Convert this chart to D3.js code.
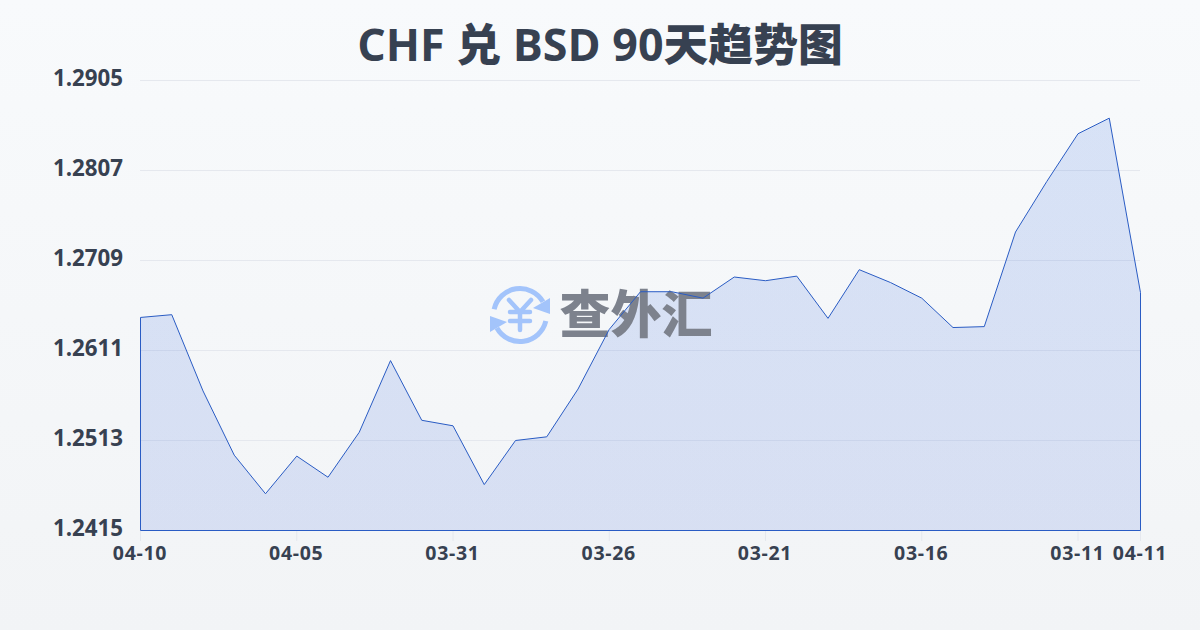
<!DOCTYPE html>
<html><head><meta charset="utf-8">
<script src="https://cdn.jsdelivr.net/npm/d3@7"></script>
<style>html,body{margin:0;padding:0}svg{display:block}text{font-family:"Open Sans","Noto Sans CJK SC",sans-serif}</style>
</head><body><div id="c"></div>
<script>
const titleText = "CHF 兑 BSD 90天趋势图";
const watermarkText = "查外汇";
const categories = ["04-10","04-09","04-08","04-07","04-06","04-05","04-04","04-03","04-02","04-01","03-31","03-30","03-29","03-28","03-27","03-26","03-25","03-24","03-23","03-22","03-21","03-20","03-19","03-18","03-17","03-16","03-15","03-14","03-13","03-12","03-11","03-10","04-11"];
const values = [1.2647,1.2650,1.2567,1.2497,1.2455,1.2496,1.2473,1.2522,1.2600,1.2535,1.2529,1.2465,1.2513,1.2517,1.2569,1.2634,1.2675,1.2675,1.2668,1.2691,1.2687,1.2692,1.2646,1.2699,1.2685,1.2668,1.2636,1.2637,1.2740,1.2795,1.2847,1.2864,1.2674];
const yTicks = [1.2415,1.2513,1.2611,1.2709,1.2807,1.2905];
const xTickLabels = ["04-10","04-05","03-31","03-26","03-21","03-16","03-11","04-11"];

const W=1200,H=630,L=140,R=1140,T=80,B=530;
const svg=d3.select("#c").append("svg").attr("width",W).attr("height",H);
const defs=svg.append("defs");
const bg=defs.append("linearGradient").attr("id","bg").attr("x1",0).attr("y1",0).attr("x2",0).attr("y2",1);
bg.append("stop").attr("offset",0).attr("stop-color","#f8fafc");
bg.append("stop").attr("offset",1).attr("stop-color","#f2f4f6");
const ag=defs.append("linearGradient").attr("id","ag").attr("gradientUnits","userSpaceOnUse").attr("x1",0).attr("y1",118).attr("x2",0).attr("y2",B);
ag.append("stop").attr("offset",0).attr("stop-color","#3e74e0").attr("stop-opacity",0.17);
ag.append("stop").attr("offset",1).attr("stop-color","#2f5bd8").attr("stop-opacity",0.14);
svg.append("rect").attr("width",W).attr("height",H).attr("fill","url(#bg)");

const x=d3.scalePoint().domain(d3.range(categories.length)).range([L,R]);
const y=d3.scaleLinear().domain([yTicks[0],yTicks[yTicks.length-1]]).range([B,T]);

// grid
svg.append("g").selectAll("line").data(yTicks.slice(1)).join("line")
  .attr("x1",L).attr("x2",R).attr("y1",d=>y(d)+.5).attr("y2",d=>y(d)+.5)
  .attr("stroke","#e5e8ee").attr("stroke-width",1);

// area
const pts=values.map((v,i)=>[x(i)+.5,y(v)+.5]);
const area=d3.area().x(d=>d[0]).y0(B+.5).y1(d=>d[1]);
svg.append("path").attr("d",area(pts)).attr("fill","url(#ag)");

// watermark
const wm=svg.append("g").attr("transform","translate(520,315)");
const blue="#a3c4fb";
wm.append("path").attr("d",d3.arc()({innerRadius:24,outerRadius:29,startAngle:-1.35,endAngle:1.05})).attr("fill",blue);
wm.append("path").attr("d",d3.arc()({innerRadius:24,outerRadius:29,startAngle:1.8,endAngle:4.2})).attr("fill",blue);
wm.append("path").attr("d","M30,-17 L30,-1 L13,-7 Z").attr("fill",blue);
wm.append("path").attr("d","M-30,17 L-30,1 L-13,7 Z").attr("fill",blue);
wm.append("path").attr("d","M-11,-15 L0,-3 L11,-15 M-10,-3 H10 M-10,6 H10 M0,-3 V15").attr("fill","none").attr("stroke",blue).attr("stroke-width",4.5).attr("stroke-linecap","round").attr("stroke-linejoin","round");
svg.append("text").attr("x",636).attr("y",333).attr("text-anchor","middle").attr("font-size",51).attr("font-weight",900).attr("fill","#7d828d").attr("style",'font-family:"Noto Sans CJK SC"').text(watermarkText);

// outline
const outline=[[L+.5,B+.5],...pts,[R+.5,B+.5],[L+.5,B+.5]];
svg.append("path").attr("d",d3.line()(outline)).attr("fill","none").attr("stroke","#2a5cc4").attr("stroke-width",1);

// x ticks
const tickIdx=xTickLabels.map(l=>categories.indexOf(l));
svg.append("g").selectAll("line").data(tickIdx).join("line")
  .attr("x1",i=>x(i)+.5).attr("x2",i=>x(i)+.5).attr("y1",B+1).attr("y2",B+11)
  .attr("stroke","#e5e8ee");
svg.append("g").selectAll("text").data(tickIdx).join("text")
  .attr("x",i=>x(i)).attr("y",B+30).attr("text-anchor","middle")
  .attr("font-size",19.5).attr("font-weight",700).attr("fill","#374151").attr("letter-spacing",0.7)
  .text(i=>categories[i]);
// y labels
svg.append("g").selectAll("text").data(yTicks).join("text")
  .attr("x",123).attr("y",d=>y(d)+6).attr("text-anchor","end")
  .attr("font-size",22.3).attr("font-weight",700).attr("fill","#374151")
  .text(d=>d.toFixed(4));
// title: CJK runs heavier than the Latin runs
const title=svg.append("text").attr("x",600).attr("y",61).attr("text-anchor","middle")
  .attr("font-size",44.8).attr("font-weight",700).attr("fill","#374151");
title.selectAll("tspan").data(titleText.match(/[\u4e00-\u9fff]+|[^\u4e00-\u9fff]+/g)).join("tspan")
  .attr("font-weight",d=>/[\u4e00-\u9fff]/.test(d)?900:700).text(d=>d);
</script></body></html>
